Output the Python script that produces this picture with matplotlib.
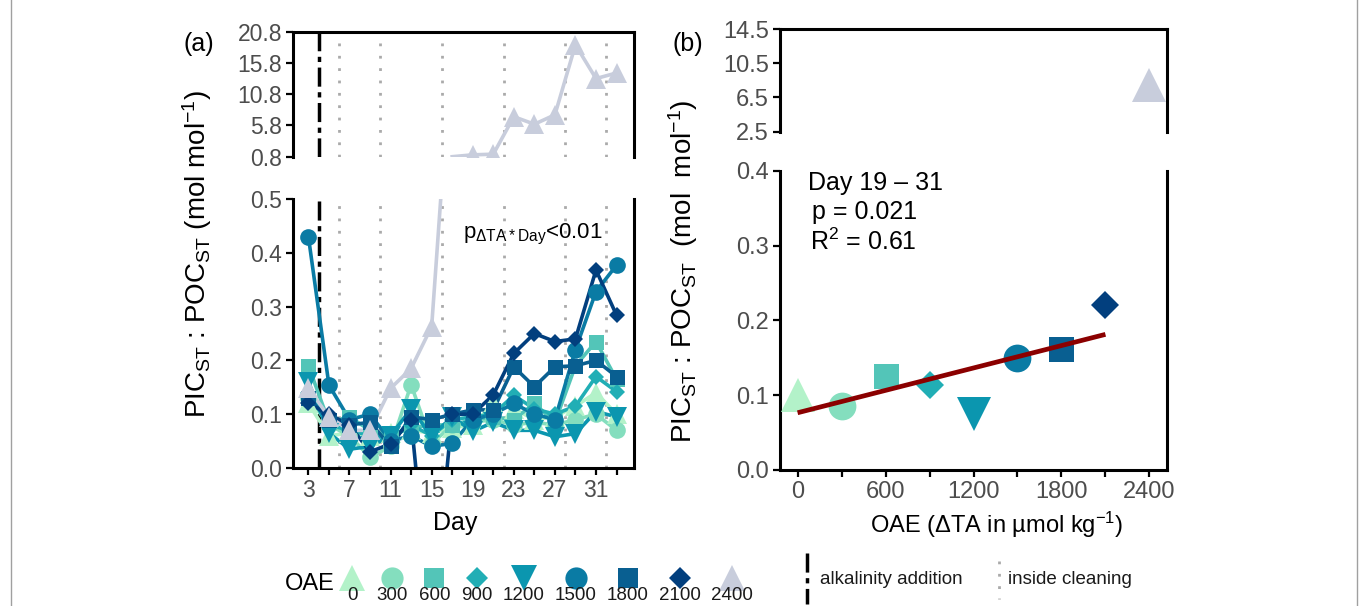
import numpy as np
import matplotlib
matplotlib.use("Agg")
import matplotlib.pyplot as plt

plt.rcParams["font.family"] = ["Liberation Sans", "DejaVu Sans"]
plt.rcParams["mathtext.fontset"] = "custom"
plt.rcParams["mathtext.rm"] = "Liberation Sans"
plt.rcParams["mathtext.it"] = "Liberation Sans:italic"
plt.rcParams["mathtext.bf"] = "Liberation Sans:bold"

# ---- data ----
days = [3, 5, 7, 9, 11, 13, 15, 17, 19, 21, 23, 25, 27, 29, 31, 33]
oae_levels = [0, 300, 600, 900, 1200, 1500, 1800, 2100, 2400]

ratio_0 = [0.12, 0.06, 0.065, 0.06, 0.065, 0.07, 0.065, 0.075, 0.08, 0.12, 0.11, 0.09, 0.095, 0.115, 0.14, 0.10]
ratio_300 = [0.13, 0.08, 0.06, 0.02, 0.04, 0.155, 0.045, 0.08, 0.085, 0.09, 0.08, 0.085, 0.08, 0.09, 0.10, 0.07]
ratio_600 = [0.19, 0.085, 0.095, 0.07, 0.06, 0.075, 0.08, 0.08, 0.09, 0.095, 0.09, 0.12, 0.085, 0.19, 0.235, 0.165]
ratio_900 = [0.14, 0.08, 0.07, 0.06, 0.055, 0.08, 0.06, 0.09, 0.095, 0.10, 0.135, 0.11, 0.10, 0.115, 0.17, 0.142]
ratio_1200 = [0.16, 0.065, 0.035, 0.04, 0.06, 0.11, 0.06, 0.095, 0.068, 0.085, 0.07, 0.07, 0.058, 0.064, 0.105, 0.095]
ratio_1500 = [0.43, 0.154, 0.09, 0.10, 0.05, 0.06, 0.04, 0.046, 0.09, 0.10, 0.12, 0.10, 0.09, 0.22, 0.328, 0.377]
ratio_1800 = [0.13, 0.09, 0.08, 0.085, 0.04, 0.095, 0.09, 0.10, 0.108, 0.108, 0.188, 0.151, 0.188, 0.19, 0.20, 0.17]
ratio_2100 = [0.12, 0.10, 0.08, 0.03, 0.045, 0.09, -0.30, 0.10, 0.10, 0.136, 0.213, 0.25, 0.235, 0.24, 0.368, 0.284]
ratio_2400 = [0.148, 0.095, 0.07, 0.07, 0.148, 0.185, 0.263, 0.80, 1.1, 1.2, 7.2, 6.0, 7.5, 18.7, 13.3, 14.2]

series = [ratio_0, ratio_300, ratio_600, ratio_900, ratio_1200,
          ratio_1500, ratio_1800, ratio_2100, ratio_2400]

# mean ratio day 19 - 31 per treatment (panel b)
mean_19_31 = [0.10, 0.086, 0.125, 0.113, 0.075, 0.15, 0.162, 0.22, 7.9]

cleaning_days = [6, 10, 16, 22, 28, 32]
addition_day = 4

# ---- styles ----
markers = ["^", "o", "s", "D", "v", "o", "s", "D", "^"]
colors = ["#B3F2C9", "#84DEBE", "#53C5B8", "#21AEB5", "#0B96AF",
          "#0A7BA4", "#095F91", "#023F7E", "#C8CDDC"]
mscale = {"^": 1.2, "o": 1.0, "s": 0.9, "D": 0.72, "v": 1.2}
tick_grey = "#4D4D4D"
clean_grey = "#AAAAAA"
dashdot = (0, (5.5, 1.6, 1.5, 1.6))
dotted = (0, (1, 3.45))

W, H = 1367, 606
fig = plt.figure(figsize=(W / 100, H / 100), dpi=100)


def box(left, top, right, bottom):
    return [left / W, 1 - bottom / H, (right - left) / W, (bottom - top) / H]


ax_a_top = fig.add_axes(box(293, 31.7, 634, 156.7))
ax_a_bot = fig.add_axes(box(293, 199, 634, 468))
ax_b_top = fig.add_axes(box(780, 29, 1167, 131.7))
ax_b_bot = fig.add_axes(box(780, 170.7, 1167, 470))


def style(ax, part):
    for s in ax.spines.values():
        s.set_linewidth(2.2)
        s.set_color("black")
    if part == "top":
        ax.spines["bottom"].set_visible(False)
        ax.tick_params(axis="x", bottom=False, labelbottom=False)
    else:
        ax.spines["top"].set_visible(False)
    ax.tick_params(axis="both", direction="out", length=5, width=1.6,
                   colors="black", labelcolor=tick_grey, labelsize=16.5, pad=3)
    ax.set_facecolor("none")


# ---- panel (a): lower part (0 - 0.5) and upper part (0.8 - 20.8) ----
for ax in (ax_a_top, ax_a_bot):
    for d in cleaning_days:
        ax.axvline(d, color=clean_grey, lw=2, ls=dotted, zorder=0)
    ax.axvline(addition_day, color="black", lw=2.5, ls=dashdot, zorder=1)
    ax.set_xlim(1.5, 34.7)

for vals, col in zip(series, colors):
    v = np.array(vals)
    ax_a_bot.plot(days, v, color=col, lw=2.6, zorder=2)
    # the upper panel only shows what lies above the axis break
    ax_a_top.plot(days, np.where(v > 0.5, v, np.nan), color=col, lw=2.6, zorder=2)
for vals, mk, col in zip(series, markers, colors):
    v = np.array(vals)
    ax_a_bot.plot(days, v, ls="none", marker=mk, ms=12 * mscale[mk],
                  mfc=col, mec=col, mew=0, zorder=3)
    ax_a_top.plot(days, np.where(v > 0.9, v, np.nan), ls="none", marker=mk,
                  ms=12 * mscale[mk], mfc=col, mec=col, mew=0, zorder=3)

ax_a_top.set_ylim(0.8, 20.8)
ax_a_top.set_yticks([0.8, 5.8, 10.8, 15.8, 20.8])
ax_a_top.set_yticklabels(["0.8", "5.8", "10.8", "15.8", "20.8"])
ax_a_bot.set_ylim(0, 0.5)
ax_a_bot.set_yticks(np.arange(0, 0.51, 0.1))
ax_a_bot.set_yticklabels([f"{v:.1f}" for v in np.arange(0, 0.51, 0.1)])
ax_a_bot.set_xticks(days)
ax_a_bot.set_xticklabels([str(d) if (d - 3) % 4 == 0 else "" for d in days])
style(ax_a_top, "top")
style(ax_a_bot, "bot")

fig.text(463 / W, 1 - 238 / H, r"p$_{\mathrm{\Delta TA*Day}}$<0.01", size=16,
         va="baseline", ha="left")

# ---- panel (b) ----
fit_x = np.array(oae_levels[:-1])
fit_y = np.array(mean_19_31[:-1])
slope, icpt = np.polyfit(fit_x, fit_y, 1)
line_x = np.array([fit_x.min(), fit_x.max()])

for ax in (ax_b_top, ax_b_bot):
    ax.plot(line_x, icpt + slope * line_x, color="#8B0000", lw=3.4,
            solid_capstyle="butt", zorder=4)
    for x, y, mk, col in zip(oae_levels, mean_19_31, markers, colors):
        ax.plot(x, y, ls="none", marker=mk, ms=20 * mscale[mk],
                mfc=col, mec=col, mew=0, zorder=3)
    ax.set_xlim(-120, 2520)

ax_b_top.set_ylim(2.5, 14.5)
ax_b_top.set_yticks([2.5, 6.5, 10.5, 14.5])
ax_b_top.set_yticklabels(["2.5", "6.5", "10.5", "14.5"])
ax_b_bot.set_ylim(0, 0.4)
ax_b_bot.set_yticks(np.arange(0, 0.41, 0.1))
ax_b_bot.set_yticklabels([f"{v:.1f}" for v in np.arange(0, 0.41, 0.1)])
ax_b_bot.set_xticks(np.arange(0, 2401, 300))
ax_b_bot.set_xticklabels([str(v) if v % 600 == 0 else "" for v in range(0, 2401, 300)])
style(ax_b_top, "top")
style(ax_b_bot, "bot")
ax_b_bot.tick_params(labelsize=17)
ax_b_top.tick_params(labelsize=17)

fig.text(808 / W, 1 - 183 / H, "Day 19 \u2013 31", size=18, va="center", ha="left")
fig.text(812 / W, 1 - 211.7 / H, "p = 0.021", size=18, va="center", ha="left")
fig.text(810 / W, 1 - 241.7 / H, r"R$^2$ = 0.61", size=18, va="center", ha="left")

# ---- labels ----
fig.text(197 / W, 1 - 254 / H, r"PIC$_{\mathrm{ST}}$ : POC$_{\mathrm{ST}}$ (mol mol$^{-1}$)",
         rotation=90, size=20, ha="center", va="center")
fig.text(683 / W, 1 - 271 / H, r"PIC$_{\mathrm{ST}}$ : POC$_{\mathrm{ST}}$  (mol  mol$^{-1}$)",
         rotation=90, size=20, ha="center", va="center")
fig.text(455 / W, 1 - 523 / H, "Day", size=18, ha="center", va="center")
fig.text(997 / W, 1 - 525 / H, "OAE (\u0394TA in \u00b5mol kg$^{-1}$)", size=17,
         ha="center", va="center")
fig.text(199 / W, 1 - 44 / H, "(a)", size=18, ha="center", va="center")
fig.text(688 / W, 1 - 44 / H, "(b)", size=18, ha="center", va="center")

# ---- legend (drawn on an overlay in pixel units) ----
lg = fig.add_axes([0, 0, 1, 1])
lg.set_xlim(0, W)
lg.set_ylim(H, 0)
lg.axis("off")

lg.text(310, 584, "OAE", size=17, ha="center", va="center")
key_w = [max(23, 9.5 * len(str(l))) for l in oae_levels]
kx = [352.0]
for i in range(1, len(oae_levels)):
    kx.append(kx[-1] + (key_w[i - 1] + key_w[i]) / 2 + 14)
for x, lvl, mk, col in zip(kx, oae_levels, markers, colors):
    lg.plot(x, 578, ls="none", marker=mk, ms=16 * mscale[mk], mfc=col, mec=col, mew=0)
    lg.text(x, 596, str(lvl), size=13.5, ha="center", va="center", color="#1A1A1A")

lg.plot([807, 807], [553, 604], color="black", lw=2.5, ls=dashdot)
lg.text(820, 580, "alkalinity addition", size=13.5, ha="left", va="center", color="#1A1A1A")
lg.plot([999, 999], [561, 599], color=clean_grey, lw=2, ls=dotted)
lg.text(1008, 580, "inside cleaning", size=13.5, ha="left", va="center", color="#1A1A1A")

# outer frame lines
lg.plot([10.5, 10.5], [0, H], color="#A0A0A0", lw=1)
lg.plot([1356.5, 1356.5], [0, H], color="#A0A0A0", lw=1)

fig.savefig("out.png", dpi=100)
